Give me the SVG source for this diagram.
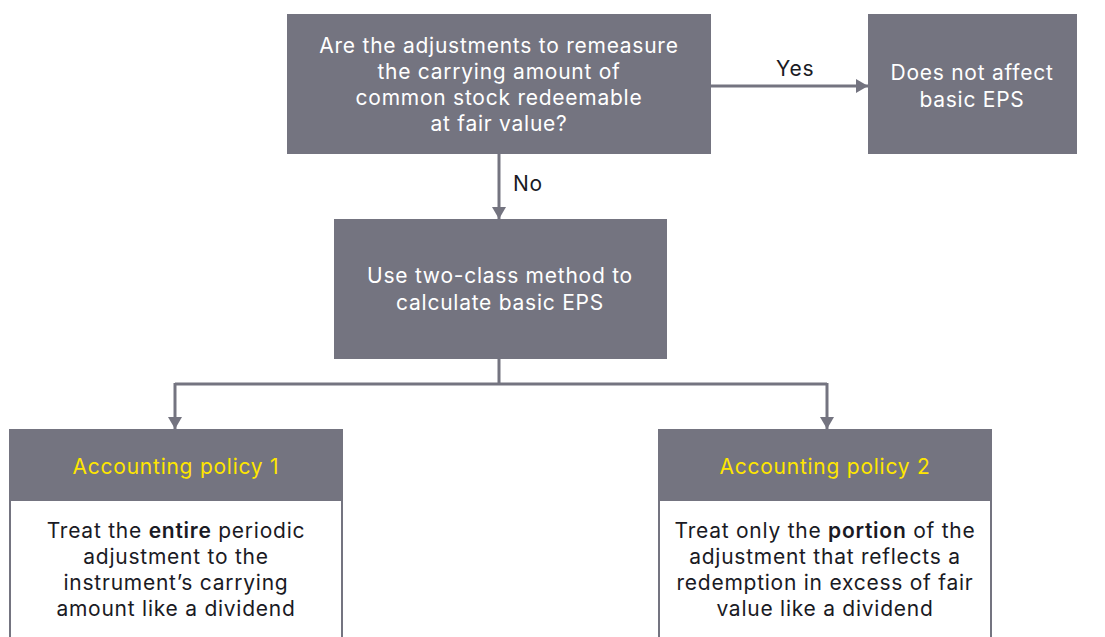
<svg xmlns="http://www.w3.org/2000/svg" width="1105" height="637" viewBox="0 0 1105 637">
<defs>
<style>
text{font-family:Inter,"Open Sans","Liberation Sans",sans-serif;font-size:21px;font-weight:400;letter-spacing:0.75px;}
.wt{fill:#ffffff;text-anchor:middle;}
.lbl{fill:#1a1a24;}
.yt{fill:#ffe600;text-anchor:middle;}
.bt{fill:#1a1a24;text-anchor:middle;}
.bt tspan.b{font-weight:600;}
.box{fill:#747480;}
.frame{fill:#ffffff;stroke:#747480;stroke-width:2;}
.conn{fill:none;stroke:#747480;stroke-width:3;}
</style>
<marker id="arr" viewBox="0 0 12 14" refX="12" refY="7" markerWidth="12" markerHeight="14" markerUnits="userSpaceOnUse" orient="auto">
<path d="M0,0 L12,7 L0,14 Z" fill="#747480"/>
</marker>
</defs>

<g id="connectors">
<path class="conn" d="M711,86 H868" marker-end="url(#arr)"/>
<path class="conn" d="M499,154 V219" marker-end="url(#arr)"/>
<path class="conn" d="M499,359 V384 M175,384 H827"/>
<path class="conn" d="M175,383 V429" marker-end="url(#arr)"/>
<path class="conn" d="M827,383 V429" marker-end="url(#arr)"/>
<text class="lbl" x="776" y="76">Yes</text>
<text class="lbl" x="513" y="191">No</text>
</g>

<g id="q1">
<rect class="box" x="287" y="14" width="424" height="140"/>
<text class="wt" x="499" y="53">Are the adjustments to remeasure</text>
<text class="wt" x="499" y="79">the carrying amount of</text>
<text class="wt" x="499" y="105">common stock redeemable</text>
<text class="wt" x="499" y="131">at fair value?</text>
</g>

<g id="noeffect">
<rect class="box" x="868" y="14" width="209" height="140"/>
<text class="wt" x="972" y="80">Does not affect</text>
<text class="wt" x="972" y="107">basic EPS</text>
</g>

<g id="twoclass">
<rect class="box" x="334" y="219" width="333" height="140"/>
<text class="wt" x="500" y="283">Use two-class method to</text>
<text class="wt" x="500" y="310">calculate basic EPS</text>
</g>

<g id="policy1">
<rect class="frame" x="10" y="430" width="332" height="212"/>
<rect class="box" x="9" y="429" width="334" height="72"/>
<text class="yt" x="176" y="474">Accounting policy 1</text>
<text class="bt" x="176" y="538">Treat the <tspan class="b">entire</tspan> periodic</text>
<text class="bt" x="176" y="564">adjustment to the</text>
<text class="bt" x="176" y="590">instrument’s carrying</text>
<text class="bt" x="176" y="616">amount like a dividend</text>
</g>

<g id="policy2">
<rect class="frame" x="659" y="430" width="332" height="212"/>
<rect class="box" x="658" y="429" width="334" height="72"/>
<text class="yt" x="825" y="474">Accounting policy 2</text>
<text class="bt" x="825" y="538">Treat only the <tspan class="b">portion</tspan> of the</text>
<text class="bt" x="825" y="564">adjustment that reflects a</text>
<text class="bt" x="825" y="590">redemption in excess of fair</text>
<text class="bt" x="825" y="616">value like a dividend</text>
</g>
</svg>
